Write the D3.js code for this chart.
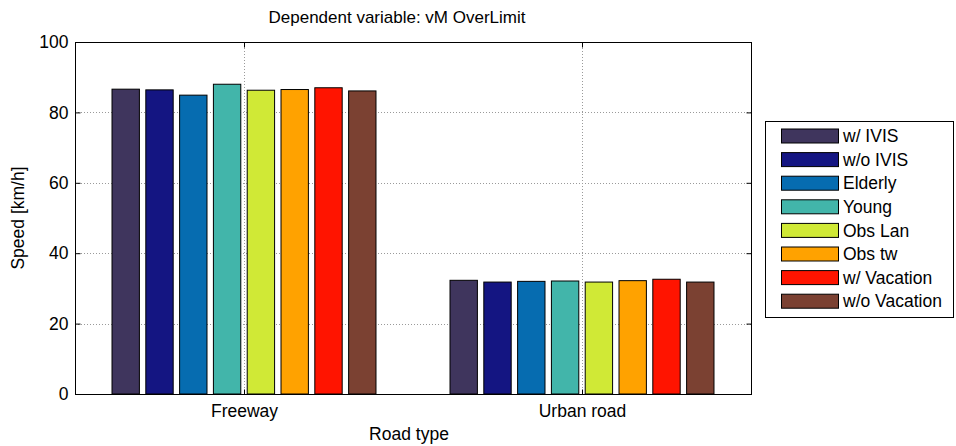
<!DOCTYPE html>
<html>
<head>
<meta charset="utf-8">
<script src="https://cdn.jsdelivr.net/npm/d3@7"></script>
<style>
  body { margin: 0; background: #fff; }
  text { font-family: "Liberation Sans", Arial, sans-serif; fill: #000; }
</style>
</head>
<body>
<div id="chart"></div>
<script>
// ---- data ----
const CATEGORIES = ["Freeway", "Urban road"];
const SERIES = ["w/ IVIS", "w/o IVIS", "Elderly", "Young", "Obs Lan", "Obs tw", "w/ Vacation", "w/o Vacation"];
const COLORS = ["#3f355d", "#141582", "#066cb0", "#42b5aa", "#d0e936", "#ffa200", "#ff1400", "#7b4132"];
// values[series][category]
const VALUES = [
    [86.6, 32.3],
    [86.4, 31.8],
    [84.9, 32.0],
    [88.0, 32.1],
    [86.3, 31.8],
    [86.5, 32.2],
    [87.0, 32.6],
    [86.1, 31.8]
];
const Y_TICKS = [0, 20, 40, 60, 80, 100];

// ---- layout ----
const W = 956, H = 446;
const PLOT = { left: 75, right: 751, top: 42, bottom: 394 };
const FONT_SIZE = 17.5;

const svg = d3.select("#chart").append("svg")
    .attr("width", W).attr("height", H);

// x in MATLAB-ish units: categories at 1, 2
const x = d3.scaleLinear().domain([0.5, 2.5]).range([PLOT.left, PLOT.right]);
const y = d3.scaleLinear().domain([0, 100]).range([PLOT.bottom, PLOT.top]);

const nS = SERIES.length;
const pitch = 0.1;
const barW = 0.081;

// grid (behind bars)
const grid = svg.append("g").attr("stroke", "#9a9a9a").attr("stroke-width", 1)
    .attr("stroke-dasharray", "1,2");
grid.selectAll("line.h").data(Y_TICKS.filter(t => t > 0 && t < 100)).enter().append("line")
    .attr("x1", PLOT.left).attr("x2", PLOT.right)
    .attr("y1", d => Math.round(y(d)) + 0.5).attr("y2", d => Math.round(y(d)) + 0.5);
grid.selectAll("line.v").data(CATEGORIES).enter().append("line")
    .attr("x1", (d, i) => Math.round(x(i + 1)) + 0.5).attr("x2", (d, i) => Math.round(x(i + 1)) + 0.5)
    .attr("y1", PLOT.top).attr("y2", PLOT.bottom);

// bars
const bars = [];
VALUES.forEach((vals, s) => {
    vals.forEach((v, c) => bars.push({ s: s, c: c, v: v }));
});
svg.append("g").selectAll("rect").data(bars).enter().append("rect")
    .attr("x", d => x(d.c + 1 + (d.s - (nS - 1) / 2) * pitch - barW / 2))
    .attr("width", d => x(barW) - x(0))
    .attr("y", d => y(d.v))
    .attr("height", d => y(0) - y(d.v))
    .attr("fill", d => COLORS[d.s])
    .attr("stroke", "#000").attr("stroke-width", 1);

// axes box
svg.append("rect")
    .attr("x", PLOT.left + 0.5).attr("y", PLOT.top + 0.5)
    .attr("width", PLOT.right - PLOT.left).attr("height", PLOT.bottom - PLOT.top)
    .attr("fill", "none").attr("stroke", "#000").attr("stroke-width", 1);

// y axis (ticks inside, MATLAB style)
const yAxis = d3.axisLeft(y).tickValues(Y_TICKS).tickSize(-5).tickPadding(7);
const gy = svg.append("g").attr("transform", `translate(${PLOT.left + 0.5},0)`).call(yAxis);
gy.select(".domain").remove();
gy.selectAll("text").attr("font-size", FONT_SIZE);
const gyR = svg.append("g").attr("transform", `translate(${PLOT.right + 0.5},0)`)
    .call(d3.axisRight(y).tickValues(Y_TICKS).tickSize(-5).tickFormat(""));
gyR.select(".domain").remove();

// x axis
const xAxis = d3.axisBottom(x).tickValues([1, 2]).tickSize(-5).tickPadding(10)
    .tickFormat(d => CATEGORIES[d - 1]);
const gx = svg.append("g").attr("transform", `translate(0,${PLOT.bottom + 0.5})`).call(xAxis);
gx.select(".domain").remove();
gx.selectAll("text").attr("font-size", FONT_SIZE);
const gxT = svg.append("g").attr("transform", `translate(0,${PLOT.top + 0.5})`)
    .call(d3.axisTop(x).tickValues([1, 2]).tickSize(-5).tickFormat(""));
gxT.select(".domain").remove();

// labels
svg.append("text").attr("x", 397).attr("y", 23)
    .attr("text-anchor", "middle").attr("font-size", 17)
    .text("Dependent variable: vM OverLimit");
svg.append("text").attr("x", 409).attr("y", 440)
    .attr("text-anchor", "middle").attr("font-size", FONT_SIZE)
    .text("Road type");
svg.append("text")
    .attr("transform", `translate(24,${(PLOT.top + PLOT.bottom) / 2}) rotate(-90)`)
    .attr("text-anchor", "middle").attr("font-size", FONT_SIZE)
    .text("Speed [km/h]");

// legend
const LEG = { x: 765, y: 121, w: 188, h: 196, rowH: 23.6, first: 136 };
svg.append("rect").attr("x", LEG.x + 0.5).attr("y", LEG.y + 0.5)
    .attr("width", LEG.w).attr("height", LEG.h)
    .attr("fill", "#fff").attr("stroke", "#000");
const items = svg.append("g").selectAll("g").data(SERIES).enter().append("g")
    .attr("transform", (d, i) => `translate(0,${LEG.first + i * LEG.rowH})`);
items.append("rect").attr("x", 781.5).attr("y", -7).attr("width", 57).attr("height", 14)
    .attr("fill", (d, i) => COLORS[i]).attr("stroke", "#000");
items.append("text").attr("x", 843).attr("y", 0).attr("dy", "0.35em")
    .attr("font-size", FONT_SIZE).text(d => d);
</script>
</body>
</html>
